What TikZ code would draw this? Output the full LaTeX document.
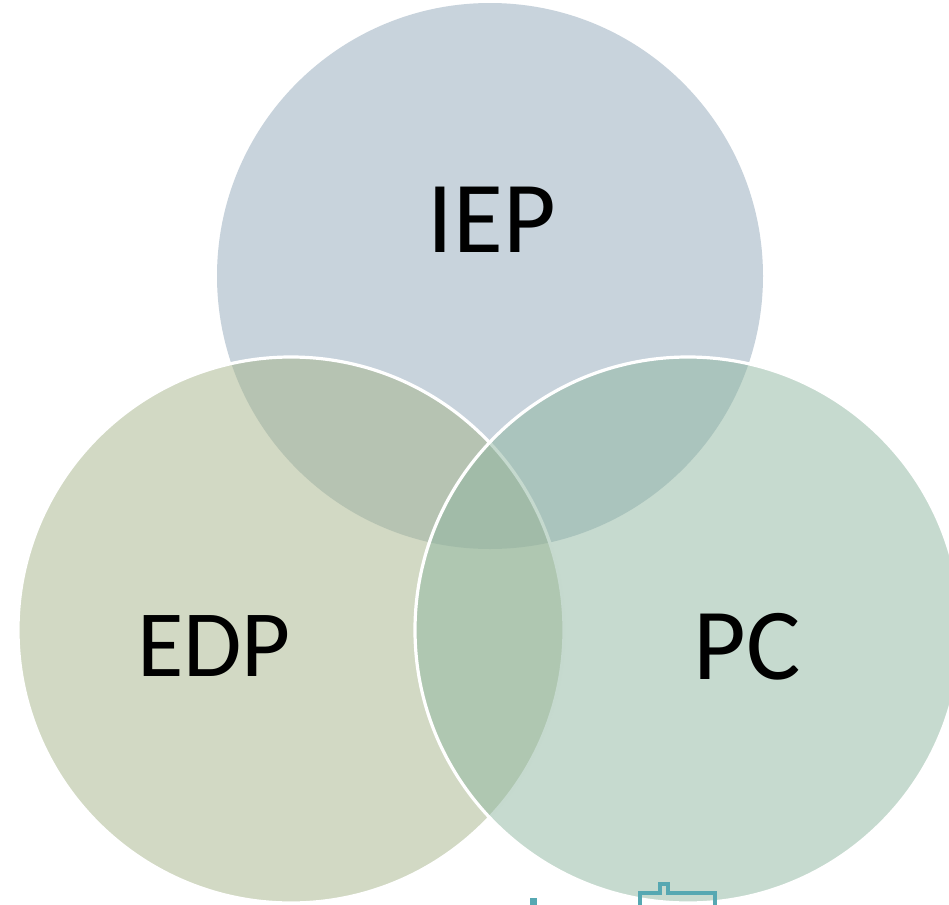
\documentclass[tikz,border=0pt]{standalone}
\usepackage{fontspec}
\setmainfont{Carlito}
\definecolor{iepfill}{RGB}{145,167,185}
\definecolor{edpfill}{RGB}{165,179,137}
\definecolor{pcfill}{RGB}{141,181,159}
\definecolor{tealline}{RGB}{86,168,178}
\begin{document}
\begin{tikzpicture}[x=0.5pt,y=-0.5pt,
  ring/.style={circle,minimum size=273pt,inner sep=0pt,fill opacity=0.5,line width=1.6pt},
  tag/.style={anchor=base,font=\fontsize{51}{60}\selectfont},
  smalltag/.style={anchor=base,font=\fontsize{47.5}{56}\selectfont}]%
\useasboundingbox (0,0) rectangle (949,905);%
\clip (0,0) rectangle (949,905);%
%
\node[ring,fill=iepfill] (iep) at (490,276) {};%
\node[ring,fill=edpfill,draw=white] (edp) at (291,630) {};%
\node[ring,fill=pcfill,draw=white] (pc) at (688,630) {};%
%
\node[tag] (iepText) at (492,252) {IEP};%
\node[smalltag] (edpText) at (214,676) {EDP};%
\node[tag] (pcText) at (747,679) {PC};%
%
\draw[tealline,line width=1.6pt] (640,905) -- (640,893) -- (660,893) -- (660,884) -- (668,884) -- (668,893) -- (715,893) -- (715,905);%
\fill[tealline] (530,898) rectangle (537,905);%
\end{tikzpicture}
\end{document}
